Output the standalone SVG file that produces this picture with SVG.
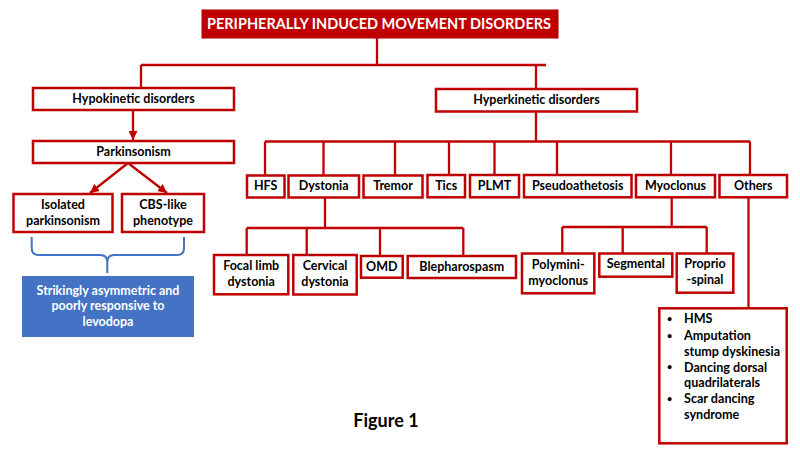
<svg xmlns="http://www.w3.org/2000/svg" width="800" height="450" viewBox="0 0 800 450">
<defs>
<style>
.box{fill:#fff;stroke:#C00000;stroke-width:2.5}
.t{font-family:Lato,"Open Sans",sans-serif;font-weight:bold;font-size:12.5px;fill:#000;text-anchor:middle}
.w{fill:#fff}
.c{fill:none;stroke:#C00000;stroke-width:2.3}
.l{font-family:Lato,"Open Sans",sans-serif;font-weight:bold;font-size:12.6px;fill:#000}
.b{font-size:9px}
</style>
<marker id="ah" viewBox="0 0 10 10" refX="10" refY="5" markerWidth="9" markerHeight="9" markerUnits="userSpaceOnUse" orient="auto">
<path d="M0,0 L10,5 L0,10 z" fill="#C00000"/>
</marker>
</defs>
<rect width="800" height="450" fill="#fff"/>

<g id="connectors">
<path class="c" d="M377,38 V65 M141,65 H546 M141,65 V88 M536,65 V89"/>
<path class="c" d="M133,110 V140" marker-end="url(#ah)"/>
<path class="c" d="M128,163 L90,193" marker-end="url(#ah)"/>
<path class="c" d="M128,163 L167,193" marker-end="url(#ah)"/>
<path class="c" d="M536,112 V141.5 M265,141.5 H750 M265,141.5 V176 M323.5,141.5 V176 M395,141.5 V176 M449,141.5 V176 M494.5,141.5 V176 M557,141.5 V176 M671,141.5 V176 M750,141.5 V176"/>
<path class="c" d="M325,197 V228 M246.7,228 H463.3 M246.7,228 V255 M306.7,228 V255 M380,228 V256 M463.3,228 V256"/>
<path class="c" d="M671.7,197 V227 M562.3,227 H706.7 M562.3,227 V253 M622.7,227 V253 M706.7,227 V253"/>
<path class="c" d="M748.5,197 V308"/>
<path d="M31.7,237 V248 Q31.7,255 38.7,255 H100.3 Q107.3,255 107.3,262 V273 M107.3,262 Q107.3,255 114.3,255 H177 Q184,255 184,248 V237" fill="none" stroke="#4472C4" stroke-width="2"/>
</g>

<g id="title">
<rect x="202" y="10" width="356" height="28" fill="#C00000" stroke="#B00000" stroke-width="1"/>
<text class="t w" x="379" y="29.3" style="font-size:14.5px">PERIPHERALLY INDUCED MOVEMENT DISORDERS</text>
</g>

<g id="hypokinetic">
<rect class="box" x="33" y="88" width="201" height="22"/>
<text class="t" x="133.5" y="102.5">Hypokinetic disorders</text>
</g>
<g id="hyperkinetic">
<rect class="box" x="436" y="89" width="201" height="22.5"/>
<text class="t" x="536.5" y="103.5">Hyperkinetic disorders</text>
</g>
<g id="parkinsonism">
<rect class="box" x="33" y="141" width="201" height="22"/>
<text class="t" x="133.5" y="155.5">Parkinsonism</text>
</g>
<g id="isolated">
<rect class="box" x="13.5" y="194" width="99" height="38"/>
<text class="t" x="63" y="209">Isolated</text>
<text class="t" x="63" y="224.5">parkinsonism</text>
</g>
<g id="cbs">
<rect class="box" x="122" y="194" width="82" height="38"/>
<text class="t" x="163" y="209">CBS-like</text>
<text class="t" x="163" y="224.5">phenotype</text>
</g>
<g id="levodopa">
<rect x="22" y="276" width="172" height="61" fill="#4472C4"/>
<text class="t w" x="108" y="294.5">Strikingly asymmetric and</text>
<text class="t w" x="108" y="310">poorly responsive to</text>
<text class="t w" x="108" y="325.7">levodopa</text>
</g>

<g id="hfs"><rect class="box" x="247" y="175.5" width="37.5" height="22"/><text class="t" x="265.7" y="190">HFS</text></g>
<g id="dystonia"><rect class="box" x="288.5" y="175.5" width="70.5" height="22"/><text class="t" x="323.7" y="190">Dystonia</text></g>
<g id="tremor"><rect class="box" x="363.5" y="175.5" width="59" height="22"/><text class="t" x="393" y="190">Tremor</text></g>
<g id="tics"><rect class="box" x="427.5" y="175" width="37.5" height="22.3"/><text class="t" x="446.2" y="189.5">Tics</text></g>
<g id="plmt"><rect class="box" x="470" y="175" width="49" height="22.3"/><text class="t" x="494.5" y="189.5">PLMT</text></g>
<g id="pseudoathetosis"><rect class="box" x="524" y="175" width="107.5" height="22.3"/><text class="t" x="577.7" y="189.5">Pseudoathetosis</text></g>
<g id="myoclonus"><rect class="box" x="636" y="175" width="79" height="22.3"/><text class="t" x="675.5" y="189.5">Myoclonus</text></g>
<g id="others"><rect class="box" x="719.5" y="175" width="67.5" height="22.3"/><text class="t" x="753.2" y="189.5">Others</text></g>

<g id="focal"><rect class="box" x="214" y="255" width="74.3" height="39.3"/><text class="t" x="251.2" y="270.3">Focal limb</text><text class="t" x="251.2" y="285.5">dystonia</text></g>
<g id="cervical"><rect class="box" x="293.3" y="255" width="63.4" height="39.5"/><text class="t" x="325" y="270.3">Cervical</text><text class="t" x="325" y="285.5">dystonia</text></g>
<g id="omd"><rect class="box" x="361" y="256" width="41.7" height="21.7"/><text class="t" x="381.8" y="270.5">OMD</text></g>
<g id="blepharospasm"><rect class="box" x="407.7" y="256" width="108.3" height="22"/><text class="t" x="461.8" y="270.5">Blepharospasm</text></g>
<g id="polymini"><rect class="box" x="522" y="253.5" width="72.3" height="39.8"/><text class="t" x="558.2" y="268.5">Polymini-</text><text class="t" x="558.2" y="284.5">myoclonus</text></g>
<g id="segmental"><rect class="box" x="599.3" y="253.5" width="73" height="23.2"/><text class="t" x="635.8" y="268">Segmental</text></g>
<g id="propriospinal"><rect class="box" x="676.7" y="253.5" width="56.6" height="39.2"/><text class="t" x="705" y="268.3">Proprio</text><text class="t" x="705" y="283.5">-spinal</text></g>

<g id="others-list">
<rect class="box" x="659.3" y="308.3" width="127.4" height="135"/>
<text class="l"><tspan class="b" x="667" y="322">•</tspan><tspan x="684" y="323.3">HMS</tspan>
<tspan class="b" x="667" y="338.5">•</tspan><tspan x="684" y="340">Amputation</tspan>
<tspan x="684" y="355.5">stump dyskinesia</tspan>
<tspan class="b" x="667" y="370.2">•</tspan><tspan x="684" y="371.7">Dancing dorsal</tspan>
<tspan x="684" y="387">quadrilaterals</tspan>
<tspan class="b" x="667" y="401.8">•</tspan><tspan x="684" y="403.3">Scar dancing</tspan>
<tspan x="684" y="418.5">syndrome</tspan></text>
</g>

<g id="caption">
<text class="t" x="386" y="426.5" style="font-size:18px">Figure 1</text>
</g>
</svg>
